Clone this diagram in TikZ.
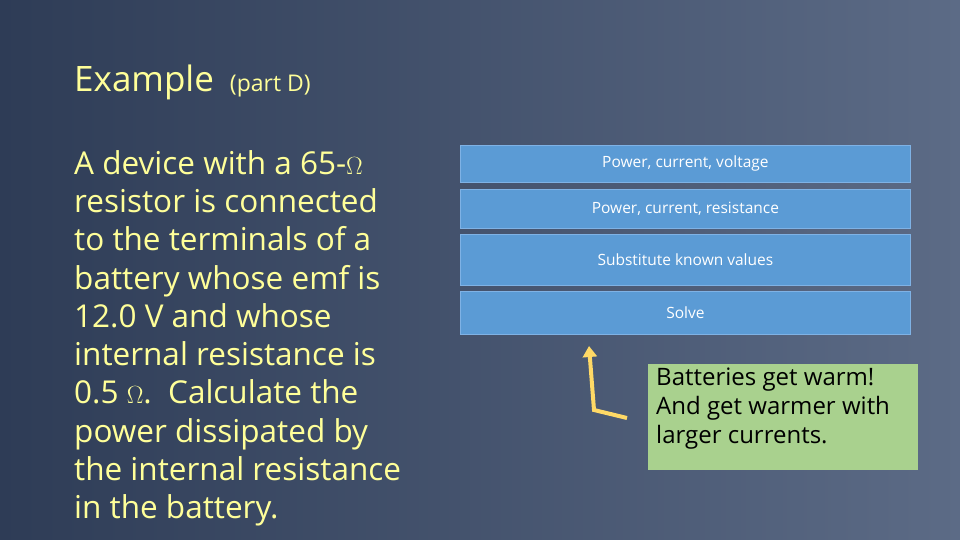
\documentclass[tikz,border=0pt]{standalone}
\usepackage{fontspec}
\setmainfont{Open Sans}
\usetikzlibrary{arrows.meta}
\definecolor{bgl}{HTML}{2E3C56}
\definecolor{bgr}{HTML}{5C6B86}
\definecolor{boxb}{HTML}{5B9BD5}
\definecolor{boxe}{HTML}{7FB2E5}
\definecolor{grn}{HTML}{A9D18E}
\definecolor{ylw}{HTML}{FFD966}
\definecolor{ttl}{HTML}{FFFF99}
\begin{document}
\begin{tikzpicture}[x=1pt,y=-1pt,
  stepbox/.style={draw=boxe,fill=boxb,line width=0.8pt,text=white,font=\fontsize{15.5}{18}\selectfont,inner sep=0pt}]
\shade[left color=bgl,right color=bgr] (0,0) rectangle (960,540);
\useasboundingbox (0,0) rectangle (960,540);
\node[anchor=base west,text=ttl,inner sep=0pt] (title) at (74,92) {\fontsize{35}{38}\selectfont Example\hspace{16pt}\fontsize{23}{26}\selectfont(part D)};
\node[anchor=north west,text=ttl,inner sep=0pt,align=left,font=\fontsize{31.5}{38.3}\selectfont] (body) at (74,150)
 {A device with a 65-$\Omega$\\resistor is connected\\to the terminals of a\\battery whose emf is\\12.0 V and whose\\internal resistance is\\0.5 $\Omega$.\ \ Calculate the\\power dissipated by\\the internal resistance\\in the battery.};
\node[stepbox,minimum width=450pt,minimum height=37pt,anchor=north west] (b1) at (460,145) {Power, current, voltage};
\node[stepbox,minimum width=450pt,minimum height=39pt,anchor=north west] (b2) at (460,189) {Power, current, resistance};
\node[stepbox,minimum width=450pt,minimum height=51pt,anchor=north west] (b3) at (460,234) {Substitute known values};
\node[stepbox,minimum width=450pt,minimum height=43pt,anchor=north west] (b4) at (460,291) {Solve};
\node[fill=grn,minimum width=270pt,minimum height=106pt,anchor=north west,inner sep=0pt] (g) at (648,364) {};
\node[anchor=north west,align=left,inner sep=0pt,font=\fontsize{24}{29}\selectfont] (gt) at (656,368) {Batteries get warm!\\And get warmer with\\larger currents.};
\coordinate (a1) at (627,418);
\coordinate (a2) at (594,410);
\coordinate (a3) at (589,346);
\draw[ylw,line width=4pt,-{Triangle[length=11pt,width=14pt]}] (a1) -- (a2) -- (a3);
\end{tikzpicture}
\end{document}
